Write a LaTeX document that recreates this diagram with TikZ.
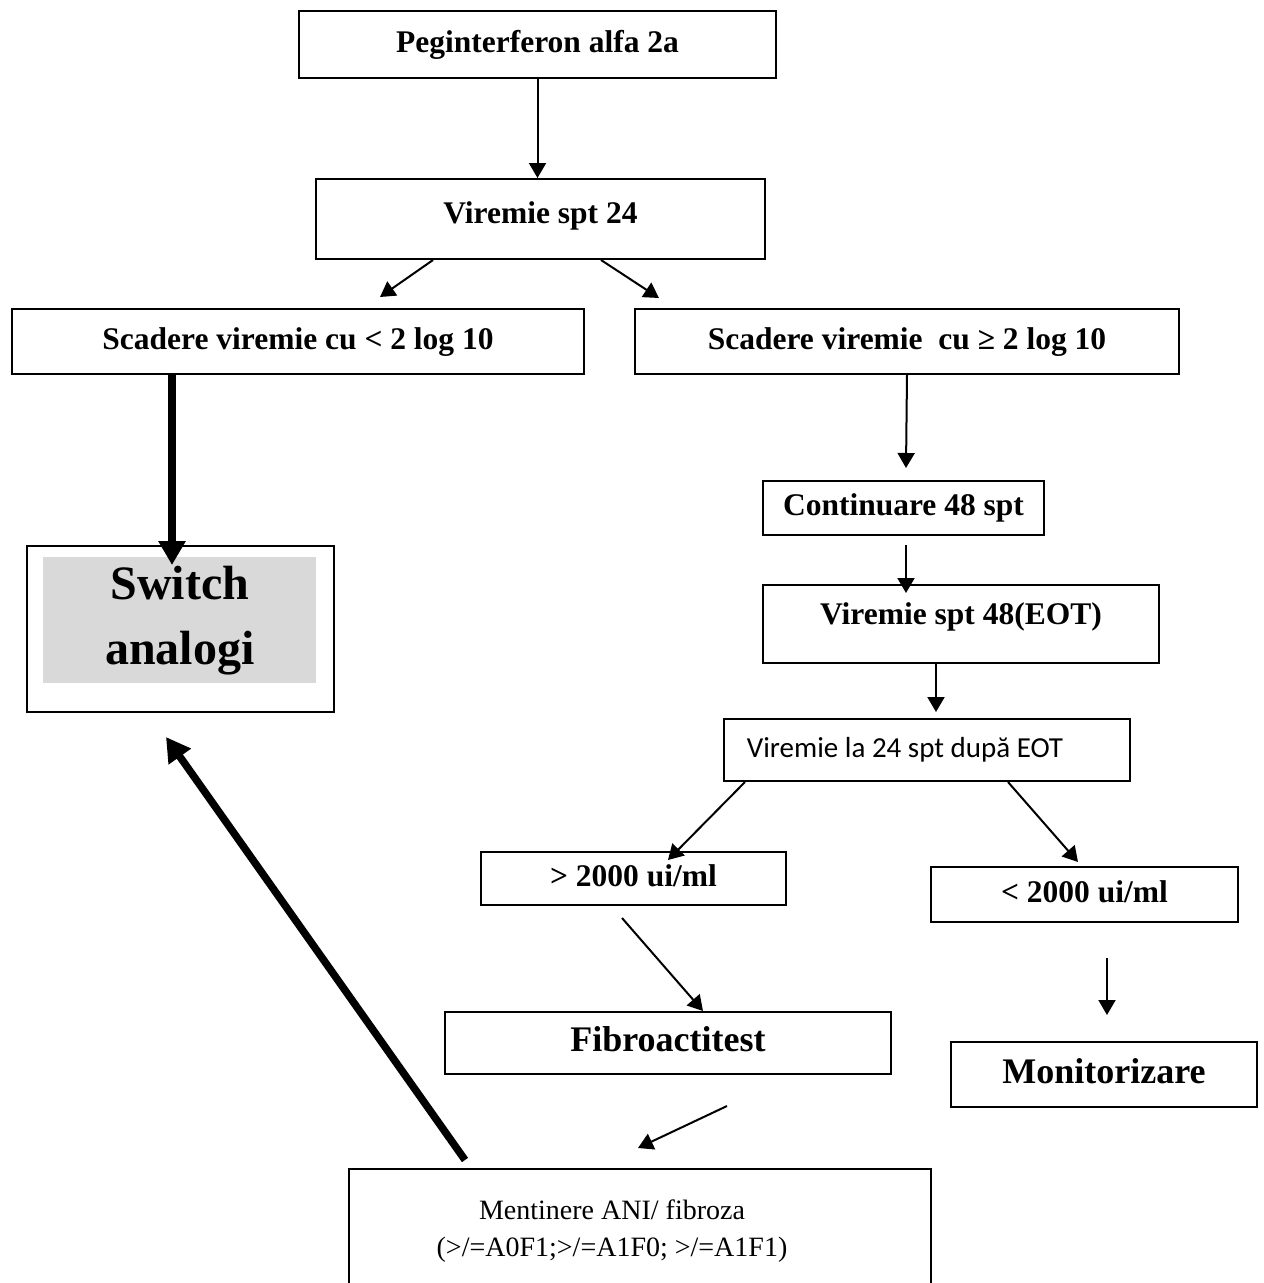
\documentclass[tikz,border=0pt]{standalone}
\usepackage{fontspec}
\setmainfont{Liberation Serif}
\newfontfamily\calibfont{Carlito}
\usetikzlibrary{arrows.meta,calc}
\definecolor{greyfill}{RGB}{217,217,217}
\begin{document}
\begin{tikzpicture}[x=1pt,y=-1pt,
  box/.style={draw, line width=2pt, inner sep=0pt, anchor=north west},
  bt/.style={font=\fontsize{31.5}{36}\selectfont\bfseries, text height=22pt, text depth=7pt},
  btbig/.style={font=\fontsize{36}{40}\selectfont\bfseries, text height=25pt, text depth=8pt},
  arr/.style={line width=2pt, -{Triangle[length=15pt,width=17pt]}},
  thickarr/.style={line width=7.5pt, -{Triangle[length=24pt,width=26pt]}}]
\useasboundingbox (0,0) rectangle (1264,1283);
\clip (0,0) rectangle (1264,1283);
\fill[white] (0,0) rectangle (1264,1283);

% boxes
\node[box, bt, minimum width=477pt, minimum height=67pt] (peg) at (298,10) {Peginterferon alfa 2a};
\node[box, bt, text depth=13pt, minimum width=449pt, minimum height=80pt] (v24) at (315,178) {Viremie spt 24};
\node[box, bt, minimum width=572pt, minimum height=65pt] (sl) at (11,308) {Scadere viremie cu < 2 log 10};
\node[box, bt, minimum width=544pt, minimum height=65pt] (sr) at (634,308) {Scadere viremie \ cu ≥ 2 log 10};
\node[box, minimum width=307pt, minimum height=166pt] (swbox) at (26,545) {};
\node[anchor=north west, fill=greyfill, inner sep=0pt, minimum width=273pt, minimum height=126pt,
      align=center, font=\fontsize{48}{65}\selectfont\bfseries] (sw) at (43,557) {Switch\\analogi};
\node[box, bt, minimum width=281pt, minimum height=54pt] (cont) at (762,480) {Continuare 48 spt};
\node[box, bt, text depth=21pt, minimum width=396pt, minimum height=78pt] (v48) at (762,584) {Viremie spt 48(EOT)};
\node[box, font=\calibfont\fontsize{29}{34}\selectfont, minimum width=406pt, minimum height=62pt] (eot) at (723,718) {Viremie la 24 spt după EOT\hspace*{44pt}};
\node[box, bt, minimum width=305pt, minimum height=53pt] (gt) at (480,851) {> 2000 ui/ml};
\node[box, bt, minimum width=307pt, minimum height=55pt] (lt) at (930,866) {< 2000 ui/ml};
\node[box, btbig, minimum width=446pt, minimum height=62pt] (fib) at (444,1011) {Fibroactitest};
\node[box, btbig, minimum width=306pt, minimum height=65pt] (mon) at (950,1041) {Monitorizare};
\node[box, align=center, font=\fontsize{28}{37}\selectfont, minimum width=582pt, minimum height=125pt] (men) at (348,1168)
  {Mentinere ANI/ fibroza\hspace*{56pt}\\(>/=A0F1;>/=A1F0; >/=A1F1)\hspace*{56pt}};

% free ends of connectors
\coordinate (e2) at (380,297);
\coordinate (e3) at (659,298);
\coordinate (e4) at (172,565);
\coordinate (e5) at (906,468);
\coordinate (s6) at (906,545);
\coordinate (e6) at (906,593);
\coordinate (e7) at (936,712);
\coordinate (e8) at (668,860);
\coordinate (e9) at (1078,862);
\coordinate (s10) at (622,918);
\coordinate (e10) at (703,1011);
\coordinate (s11) at (1107,958);
\coordinate (e11) at (1107,1015);
\coordinate (s12) at (727,1106);
\coordinate (e12) at (638,1148);
\coordinate (s13) at (465,1160);
\coordinate (e13) at (166,737);

% connectors
\draw[arr] (peg.south) -- (peg.south |- v24.north);
\draw[arr] ($(v24.south west)+(118,0)$) -- (e2);
\draw[arr] ($(v24.south west)+(286,0)$) -- (e3);
\draw[thickarr] ($(sl.south west)+(161,0)$) -- (e4);
\draw[arr] (sr.south) -- (e5);
\draw[arr] (s6) -- (e6);
\draw[arr] ($(v48.south west)+(174,0)$) -- (e7);
\draw[arr] ($(eot.south west)+(22,0)$) -- (e8);
\draw[arr] ($(eot.south west)+(285,0)$) -- (e9);
\draw[arr] (s10) -- (e10);
\draw[arr] (s11) -- (e11);
\draw[arr] (s12) -- (e12);
\draw[thickarr] (s13) -- (e13);
\end{tikzpicture}
\end{document}
